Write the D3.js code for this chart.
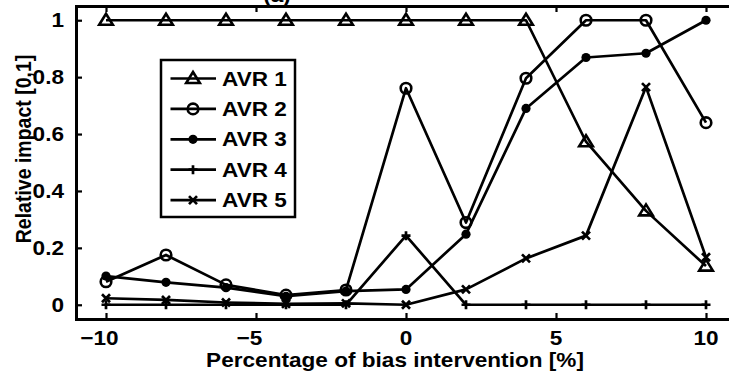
<!DOCTYPE html>
<html><head><meta charset="utf-8">
<script src="https://cdn.jsdelivr.net/npm/d3@7"></script>
<style>body{margin:0;background:#fff;} svg{display:block;} text{font-family:"Liberation Sans",Arial,sans-serif;font-weight:bold;fill:#000;}</style>
</head><body>
<script>
const xValues = [-10,-8,-6,-4,-2,0,2,4,6,8,10];
const avr1 = [1,1,1,1,1,1,1,1,0.573,0.33,0.136];
const avr2 = [0.081,0.175,0.07,0.034,0.052,0.761,0.289,0.796,1,1,0.64];
const avr3 = [0.101,0.079,0.06,0.03,0.048,0.054,0.248,0.69,0.869,0.884,1];
const avr4 = [0,0,0,0,0,0.243,0,0,0,0,0];
const avr5 = [0.023,0.017,0.008,0.003,0.005,0,0.054,0.163,0.243,0.765,0.167];
const seriesNames = ["AVR 1","AVR 2","AVR 3","AVR 4","AVR 5"];
const markers = ["triangle","circle","dot","plus","cross"];
const xTicks = [-10,-5,0,5,10];
const yTicks = [0,0.2,0.4,0.6,0.8,1];
const xLabel = "Percentage of bias intervention [%]";
const yLabel = "Relative impact [0,1]";
const titleText = "(a)";

const W=729,H=377, SX=1.13;
const svg=d3.select("body").append("svg").attr("width",W).attr("height",H);
const x=d3.scaleLinear().domain([-11,11]).range([76,736]);
const y=d3.scaleLinear().domain([-0.05,1.05]).range([319,6]);
const series=[avr1,avr2,avr3,avr4,avr5];

function stext(px,py,str,fs,anchor){
  return svg.append("text").attr("transform",`translate(${px},${py}) scale(${SX},1)`)
    .attr("text-anchor",anchor||"middle").attr("font-size",fs).text(str);
}

stext(277,2,titleText,20);

const LW=2.7;
const line=d3.line().x((d,i)=>x(xValues[i])).y(d=>y(d));
const g=svg.append("g");
series.forEach((s,k)=>{
  g.append("path").attr("d",line(s)).attr("fill","none").attr("stroke","#000").attr("stroke-width",LW).attr("stroke-linejoin","round");
});
function drawMarker(sel,type,cx,cy){
  if(type==="triangle"){
    const s=6.5;
    sel.append("path").attr("d",`M${cx},${cy-s}L${cx+s*1.05},${cy+s*0.7}L${cx-s*1.05},${cy+s*0.7}Z`).attr("fill","none").attr("stroke","#000").attr("stroke-width",2.6);
  } else if(type==="circle"){
    sel.append("circle").attr("cx",cx).attr("cy",cy).attr("r",5.3).attr("fill","none").attr("stroke","#000").attr("stroke-width",2.6);
  } else if(type==="dot"){
    sel.append("circle").attr("cx",cx).attr("cy",cy).attr("r",4.6).attr("fill","#000");
  } else if(type==="plus"){
    sel.append("path").attr("d",`M${cx-4.5},${cy}H${cx+4.5}M${cx},${cy-4.5}V${cy+4.5}`).attr("stroke","#000").attr("stroke-width",2.7);
  } else {
    sel.append("path").attr("d",`M${cx-4},${cy-4}L${cx+4},${cy+4}M${cx-4},${cy+4}L${cx+4},${cy-4}`).attr("stroke","#000").attr("stroke-width",2.7);
  }
}
series.forEach((s,k)=>{
  s.forEach((v,i)=>drawMarker(g,markers[k],x(xValues[i]),y(v)));
});

const ax=svg.append("g").attr("transform","translate(0,319)").call(d3.axisBottom(x).tickValues(xTicks).tickSize(-6).tickFormat(""));
const axT=svg.append("g").attr("transform","translate(0,6)").call(d3.axisTop(x).tickValues(xTicks).tickSize(-6).tickFormat(""));
const ay=svg.append("g").attr("transform","translate(76,0)").call(d3.axisLeft(y).tickValues(yTicks).tickSize(-6).tickFormat(""));
const ayR=svg.append("g").attr("transform","translate(736,0)").call(d3.axisRight(y).tickValues(yTicks).tickSize(-6).tickFormat(""));
[ax,axT,ay,ayR].forEach(a=>{
  a.select(".domain").attr("stroke","#000").attr("stroke-width",3);
  a.selectAll(".tick line").attr("stroke","#000").attr("stroke-width",2.2);
});
const FS=20;
xTicks.forEach(t=>{
  const digits=String(Math.abs(t));
  if(t<0){
    const tmp=stext(0,0,digits,FS); const w=tmp.node().getComputedTextLength()*SX; tmp.remove();
    stext(x(t)+w/2,344.5,"\u2212"+digits,FS,"end");
  } else stext(x(t),344.5,digits,FS);
});
yTicks.forEach(t=>{
  stext(64,y(t)+7,String(t),FS,"end");
});

stext(395,367,xLabel,20);
svg.append("text").attr("transform",`translate(31,149) rotate(-90) scale(1,${SX})`).attr("text-anchor","middle").attr("font-size",19.5).text(yLabel);

const lg=svg.append("g");
lg.append("rect").attr("x",161).attr("y",60).attr("width",134).attr("height",157).attr("fill","#fff").attr("stroke","#000").attr("stroke-width",2.5);
seriesNames.forEach((n,k)=>{
  const ly=78.5+k*30.4;
  lg.append("line").attr("x1",170.5).attr("x2",216).attr("y1",ly).attr("y2",ly).attr("stroke","#000").attr("stroke-width",LW);
  drawMarker(lg,markers[k],193,ly);
  lg.append("text").attr("transform",`translate(222,${ly+7}) scale(${SX},1)`).attr("font-size",20).text(n);
});
</script>
</body></html>
